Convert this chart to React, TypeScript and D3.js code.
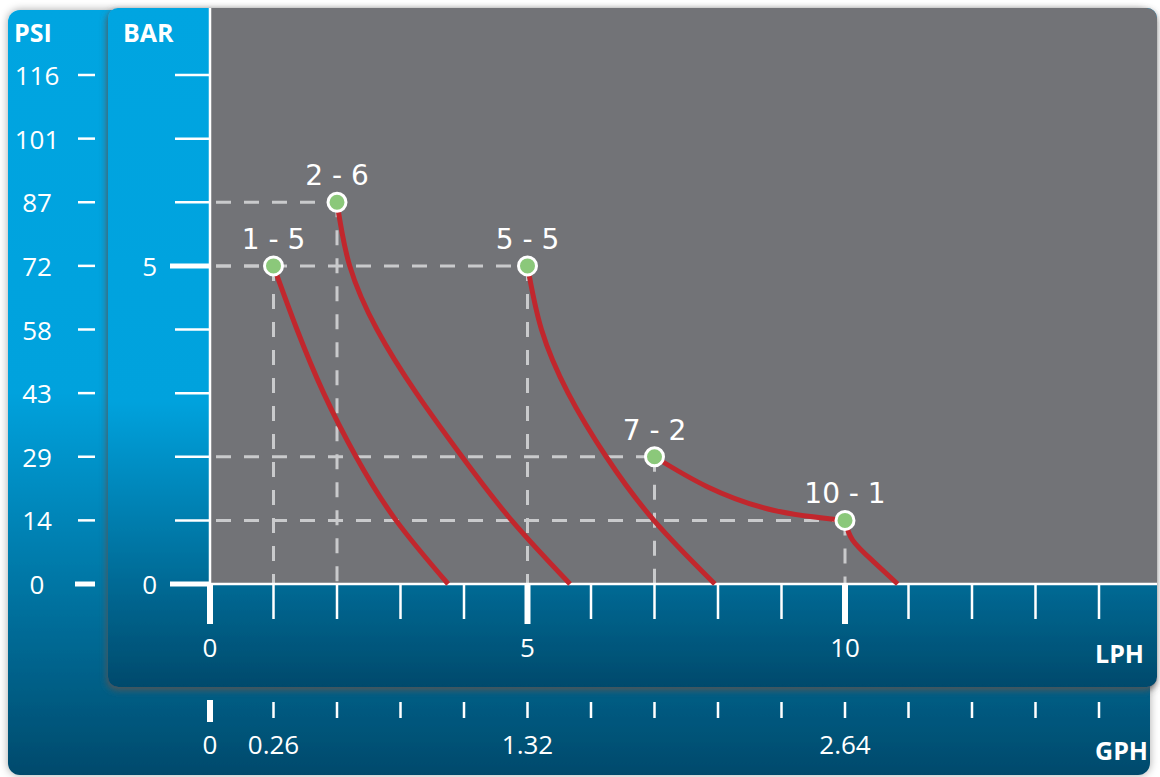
import React from "react";
import * as d3 from "d3";

// ---- data ----
const barTicks = [0, 1, 2, 3, 4, 5, 6, 7, 8];
const barMajor = [0, 5];
const psiLabels = ["0", "14", "29", "43", "58", "72", "87", "101", "116"];
const lphTicks = [0, 1, 2, 3, 4, 5, 6, 7, 8, 9, 10, 11, 12, 13, 14];
const lphMajor = [0, 5, 10];
const gphTickLph = [0, 1, 5, 10];
const gphTickLabels = ["0", "0.26", "1.32", "2.64"];

const pointFlow = [1, 2, 5, 7, 10];
const pointBar = [5, 6, 5, 2, 1];
const pointLabels = ["1 - 5", "2 - 6", "5 - 5", "7 - 2", "10 - 1"];

// curves read as [LPH, BAR]
const curve1: [number, number][] = [[1, 5], [1.37, 4], [1.79, 3], [2.3, 2], [2.93, 1], [3.75, 0]];
const curve2: [number, number][] = [[2, 6], [2.2, 5], [2.63, 4], [3.25, 3], [3.97, 2], [4.75, 1], [5.67, 0]];
const curve3: [number, number][] = [[5, 5], [5.22, 4], [5.64, 3], [6.24, 2], [6.99, 1], [7.95, 0]];
const curve4a: [number, number][] = [[7, 2], [7.83, 1.53], [8.87, 1.16], [10, 1]];
const curve4b: [number, number][] = [[10, 1], [10.12, 0.69], [10.44, 0.36], [10.83, 0]];
const curves = [curve1, curve2, curve3, curve4a, curve4b];

const W = 1160;
const H = 777;

export default function App() {
  const x = d3.scaleLinear().domain([0, 14]).range([210, 1099]);
  const y = d3.scaleLinear().domain([0, 8]).range([584, 75]);
  const line = d3
    .line<[number, number]>()
    .x((d) => x(d[0]))
    .y((d) => y(d[1]))
    .curve(d3.curveNatural);

  const numFont = "'Open Sans', 'Noto Sans', sans-serif";
  const x0 = x(0);
  const y0 = y(0);
  const innerRight = 1157;

  return (
    <div style={{ position: "absolute", left: 0, top: 0 }}>
      <svg width={W} height={H} style={{ display: "block" }}>
        <defs>
          <linearGradient id="gOuter" gradientUnits="userSpaceOnUse" x1="0" y1="10" x2="0" y2="775">
            <stop offset="0" stopColor="#00a5e1" />
            <stop offset="0.5" stopColor="#00a2dd" />
            <stop offset="1" stopColor="#004a6c" />
          </linearGradient>
          <linearGradient id="gInner" gradientUnits="userSpaceOnUse" x1="0" y1="8" x2="0" y2="687">
            <stop offset="0" stopColor="#00a5e1" />
            <stop offset="0.58" stopColor="#00a2dd" />
            <stop offset="1" stopColor="#004a6c" />
          </linearGradient>
          <filter id="shOuter" x="-5%" y="-5%" width="110%" height="110%">
            <feDropShadow dx="0" dy="0" stdDeviation="4" floodColor="#000" floodOpacity="0.35" />
          </filter>
          <filter id="shInner" x="-5%" y="-5%" width="110%" height="110%">
            <feDropShadow dx="-1" dy="3" stdDeviation="3.5" floodColor="#555" floodOpacity="1" />
          </filter>
          <clipPath id="innerClip">
            <rect x={108} y={8} width={innerRight - 108} height={679} rx={10} />
          </clipPath>
        </defs>

        <rect x={0} y={0} width={W} height={H} fill="#ffffff" />
        {/* outer panel */}
        <rect x={8} y={10} width={1142} height={765} rx={12} fill="url(#gOuter)" filter="url(#shOuter)" />
        {/* inner panel */}
        <rect x={108} y={8} width={innerRight - 108} height={679} rx={10} fill="url(#gInner)" filter="url(#shInner)" />
        {/* plot area */}
        <g clipPath="url(#innerClip)">
          <rect x={x0} y={0} width={innerRight - x0} height={y0} fill="#727377" />
        </g>

        {/* dashed guides */}
        <g stroke="#c9cacc" strokeWidth={3} strokeDasharray="15 13" fill="none">
          {pointFlow.map((f, i) => (
            <g key={"g" + i}>
              <line x1={x0 + 6} x2={x(f)} y1={y(pointBar[i])} y2={y(pointBar[i])} />
              <line x1={x(f)} x2={x(f)} y1={y(pointBar[i])} y2={y0} />
            </g>
          ))}
        </g>

        {/* axis lines */}
        <line x1={x0} x2={x0} y1={8} y2={y0} stroke="#fff" strokeWidth={2.5} />
        <line x1={x0} x2={innerRight} y1={y0} y2={y0} stroke="#fff" strokeWidth={2.5} />

        {/* BAR ticks */}
        {barTicks.map((b) => {
          const major = barMajor.includes(b);
          return (
            <line key={"bt" + b} x1={major ? 170 : 175} x2={x0} y1={y(b)} y2={y(b)} stroke="#fff" strokeWidth={major ? 5 : 2.5} />
          );
        })}
        {barMajor.map((b) => (
          <text key={"bl" + b} x={157} y={y(b) + 10} textAnchor="end" fill="#fff" fontFamily={numFont} fontWeight={500} fontSize={26}>
            {b}
          </text>
        ))}

        {/* PSI ticks */}
        {barTicks.map((b, i) => (
          <g key={"pt" + b}>
            <line x1={b === 0 ? 75 : 78} x2={95} y1={y(b)} y2={y(b)} stroke="#fff" strokeWidth={b === 0 ? 5 : 2.5} />
            <text x={37} y={y(b) + 10} textAnchor="middle" fill="#fff" fontFamily={numFont} fontWeight={500} fontSize={26}>
              {psiLabels[i]}
            </text>
          </g>
        ))}

        {/* LPH ticks */}
        {lphTicks.map((t) => {
          const major = lphMajor.includes(t);
          return (
            <line key={"lt" + t} x1={x(t)} x2={x(t)} y1={y0} y2={major ? 624 : 619} stroke="#fff" strokeWidth={major ? 6 : 2.5} />
          );
        })}
        {lphMajor.map((t) => (
          <text key={"ll" + t} x={x(t)} y={657} textAnchor="middle" fill="#fff" fontFamily={numFont} fontWeight={500} fontSize={26}>
            {t}
          </text>
        ))}

        {/* GPH ticks */}
        {lphTicks.map((t) => (
          <line key={"gt" + t} x1={x(t)} x2={x(t)} y1={t === 0 ? 700 : 702} y2={t === 0 ? 722 : 718} stroke="#fff" strokeWidth={t === 0 ? 6 : 2.5} />
        ))}
        {gphTickLph.map((t, i) => (
          <text key={"gl" + t} x={x(t)} y={754} textAnchor="middle" fill="#fff" fontFamily={numFont} fontWeight={500} fontSize={26}>
            {gphTickLabels[i]}
          </text>
        ))}

        {/* axis titles */}
        <g fill="#fff" fontFamily={numFont} fontWeight={700} fontSize={25}>
          <text x={14} y={42}>PSI</text>
          <text x={123} y={42}>BAR</text>
          <text x={1144} y={663} textAnchor="end">LPH</text>
          <text x={1148} y={760} textAnchor="end">GPH</text>
        </g>

        {/* curves */}
        {curves.map((c, i) => (
          <path key={"c" + i} d={line(c) || ""} fill="none" stroke="#c1272d" strokeWidth={5} strokeLinecap="butt" />
        ))}

        {/* points */}
        {pointFlow.map((f, i) => (
          <g key={"p" + i}>
            <circle cx={x(f)} cy={y(pointBar[i])} r={9} fill="#8bc87a" stroke="#fff" strokeWidth={3} />
            <text x={x(f)} y={y(pointBar[i]) - 17} textAnchor="middle" fill="#fff" fontFamily="'DejaVu Sans', Verdana, sans-serif" fontSize={28}>
              {pointLabels[i]}
            </text>
          </g>
        ))}
      </svg>
    </div>
  );
}
